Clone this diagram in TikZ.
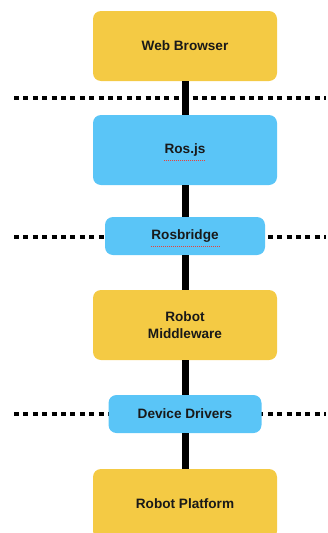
\documentclass[tikz,border=0pt]{standalone}
\usepackage{fontspec}
\setmainfont{Liberation Sans}
\definecolor{layeryellow}{HTML}{F4CA44}
\definecolor{layerblue}{HTML}{5AC5F7}
\definecolor{spellred}{HTML}{E8403A}
\begin{document}
\begin{tikzpicture}[x=1pt,y=-1pt,
  layer/.style={rounded corners=8pt, inner sep=0pt, align=center,
    font=\fontsize{13.6}{16.5}\selectfont\bfseries, text=black!90},
  bigbox/.style={layer, minimum width=184pt, minimum height=70pt},
  yellowbox/.style={bigbox, fill=layeryellow},
  bluebox/.style={layer, fill=layerblue},
  link/.style={line width=7pt, black},
  boundary/.style={line width=4.3pt, black, dash pattern=on 5pt off 4.4pt},
  squiggle/.style={spellred, line width=0.9pt, dash pattern=on 1pt off 1pt}]
\useasboundingbox (0,0) rectangle (328,533);
\begin{scope}
\clip (0,0) rectangle (328,533);

% layer boundaries
\coordinate (b1l) at (14,98);  \coordinate (b1r) at (326,98);
\coordinate (b2l) at (14,237); \coordinate (b2r) at (326,237);
\coordinate (b3l) at (14,414); \coordinate (b3r) at (326,414);
\draw[boundary] (b1l) -- (b1r);
\draw[boundary] (b2l) -- (b2r);
\draw[boundary] (b3l) -- (b3r);

% layers
\node[yellowbox] (wb) at (185,46) {Web Browser};
\node[bigbox, bluebox] (rosjs) at (185,150) {Ros.js};
\node[bluebox, minimum width=160pt, minimum height=38pt] (rb) at (185,236) {Rosbridge};
\node[yellowbox] (mw) at (185,325) {Robot\\Middleware};
\node[bluebox, minimum width=153pt, minimum height=38pt] (dd) at (185,414) {Device Drivers};
\node[yellowbox] (rp) at (185,504) {Robot Platform};

% vertical stack links
\draw[link] (wb.south) -- (rosjs.north);
\draw[link] (rosjs.south) -- (rb.north);
\draw[link] (rb.south) -- (mw.north);
\draw[link] (mw.south) -- (dd.north);
\draw[link] (dd.south) -- (rp.north);

% spell-check underlines
\coordinate (s1a) at (164,160); \coordinate (s1b) at (206,160);
\coordinate (s2a) at (151,246); \coordinate (s2b) at (220,246);
\draw[squiggle] (s1a) -- (s1b);
\draw[squiggle] (s2a) -- (s2b);
\end{scope}
\end{tikzpicture}
\end{document}
